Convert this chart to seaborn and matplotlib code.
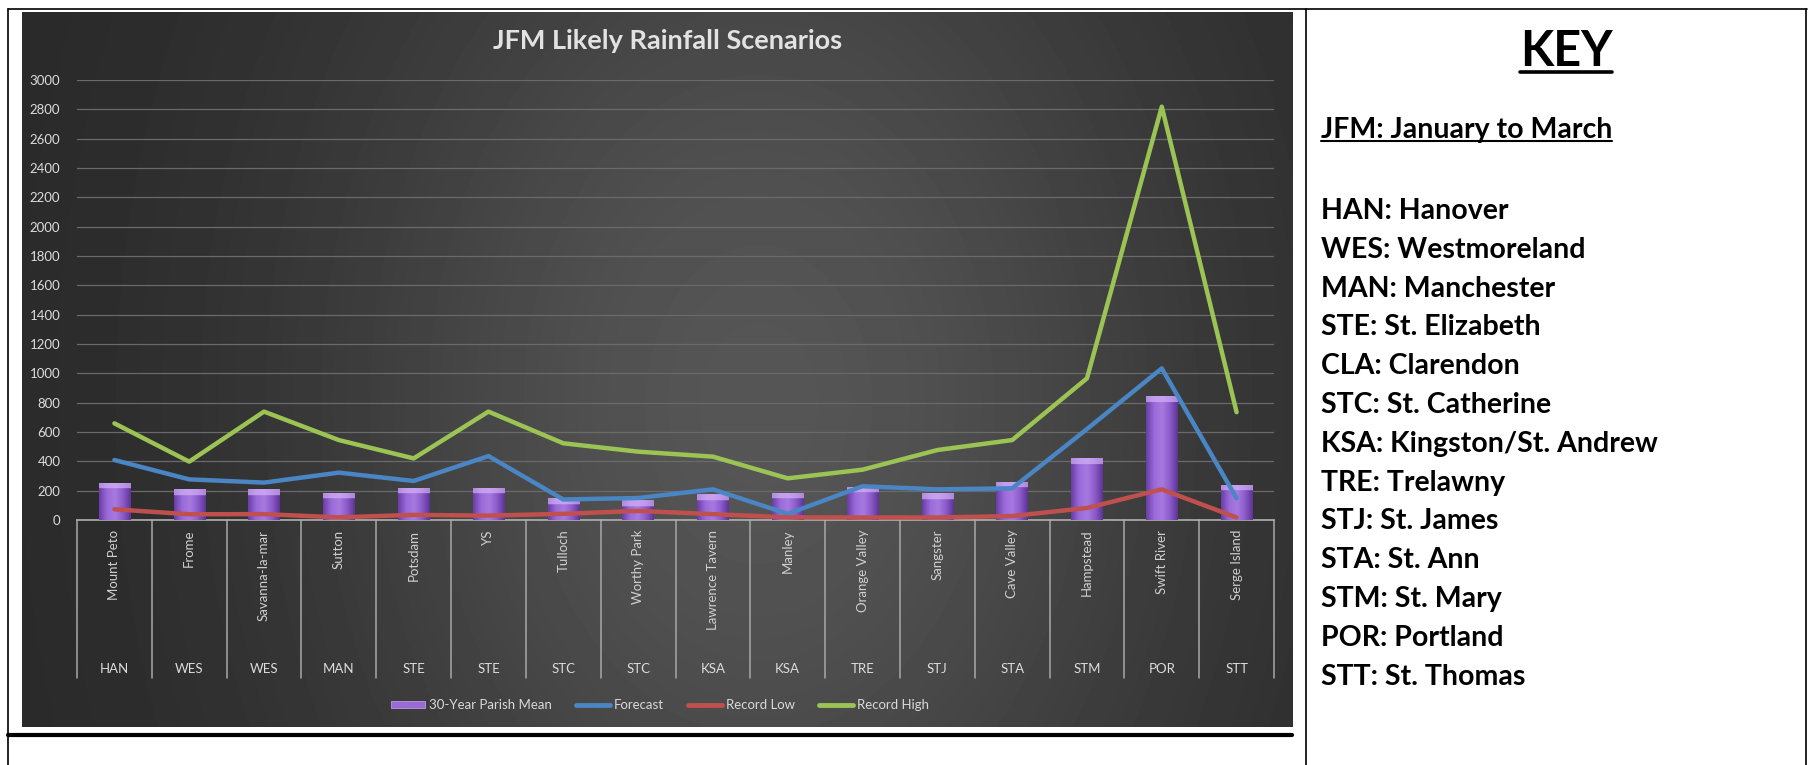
import numpy as np
import pandas as pd
import matplotlib
matplotlib.use("Agg")
import matplotlib.pyplot as plt
import seaborn as sns
from matplotlib.lines import Line2D
from matplotlib.patches import Patch

# ---------------- data ----------------
sites = ["Mount Peto", "Frome", "Savanna-la-mar", "Sutton", "Potsdam", "YS",
         "Tulloch", "Worthy Park", "Lawrence Tavern", "Manley", "Orange Valley",
         "Sangster", "Cave Valley", "Hampstead", "Swift River", "Serge Island"]
parishes = ["HAN", "WES", "WES", "MAN", "STE", "STE", "STC", "STC", "KSA", "KSA",
            "TRE", "STJ", "STA", "STM", "POR", "STT"]
parish_mean = [255, 209, 209, 186, 220, 220, 148, 136, 175, 186, 227, 182, 261, 420, 845, 239]
forecast = [409, 277, 255, 323, 266, 436, 140, 150, 209, 42, 230, 209, 216, 620, 1034, 148]
record_low = [73, 39, 40, 18, 35, 30, 42, 62, 40, 18, 17, 17, 27, 82, 209, 17]
record_high = [659, 398, 739, 545, 420, 739, 523, 466, 432, 284, 343, 477, 545, 966, 2818, 735]
y_ticks = list(range(0, 3001, 200))
title = "JFM Likely Rainfall Scenarios"
key_title = "KEY"
key_sub = "JFM: January to March"
key_lines = ["HAN: Hanover", "WES: Westmoreland", "MAN: Manchester", "STE: St. Elizabeth",
             "CLA: Clarendon", "STC: St. Catherine", "KSA: Kingston/St. Andrew",
             "TRE: Trelawny", "STJ: St. James", "STA: St. Ann", "STM: St. Mary",
             "POR: Portland", "STT: St. Thomas"]

df = pd.DataFrame({"site": sites, "mean": parish_mean})

# ---------------- style ----------------
sns.set_theme(style="white")
plt.rcParams["font.family"] = ["Lato", "DejaVu Sans"]

W, H = 1809, 765
fig = plt.figure(figsize=(W / 100, H / 100), dpi=100)
fig.patch.set_facecolor("white")

def fx(px):
    return px / W

def fy(py):
    return 1 - py / H

# background panel with gradient
bl, bt, br, bb = 22, 12, 1292, 727
bg = fig.add_axes([fx(bl), fy(bb), fx(br - bl), (bb - bt) / H])
X, Y = np.meshgrid(np.linspace(0, 1, 400), np.linspace(0, 1, 200))
v = 0.155 + 0.18 * np.exp(-((X - 0.58) / 0.36) ** 2 - ((Y - 0.55) / 0.9) ** 2)
bg.imshow(v, cmap="gray", vmin=0, vmax=1, aspect="auto", extent=[0, 1, 0, 1],
          interpolation="bilinear")
bg.set_axis_off()

# main axes
al, at, ar, ab = 77, 80, 1274, 520
ax = fig.add_axes([fx(al), fy(ab), fx(ar - al), (ab - at) / H])
ax.set_facecolor("none")

sns.barplot(data=df, x="site", y="mean", color="#8a5cc6", width=0.42,
            ax=ax, zorder=2, saturation=1)
xs = np.arange(len(sites))
sns.lineplot(x=xs, y=forecast, color="#4a85c4", lw=3.2, ax=ax, zorder=4)
sns.lineplot(x=xs, y=record_low, color="#c0504d", lw=3.2, ax=ax, zorder=4)
sns.lineplot(x=xs, y=record_high, color="#9bc454", lw=3.2, ax=ax, zorder=4)

ax.set_ylim(0, 3000)
ax.set_xlim(-0.5, len(sites) - 0.5)
ax.set_yticks(y_ticks)
ax.set_yticklabels([str(t) for t in y_ticks])
ax.yaxis.grid(True, color="#6a6a6a", lw=0.9)
ax.set_axisbelow(True)
for s in ["top", "right", "left"]:
    ax.spines[s].set_visible(False)
ax.spines["bottom"].set_color("#b0b0b0")
ax.spines["bottom"].set_linewidth(1.2)
ax.tick_params(axis="y", length=0, pad=12, labelsize=9.5, labelcolor="#dcdcdc")
ax.set_xticks(xs)
ax.set_xticklabels(sites, rotation=90, fontsize=9.5, color="#d0d0d0", va="top")
ax.tick_params(axis="x", length=0, pad=7)
ax.set_xlabel("")
ax.set_ylabel("")

# bar shading (derived from the drawn patches)
fig.canvas.draw()
bar_cmap = matplotlib.colors.LinearSegmentedColormap.from_list(
    "bar", ["#6a3ea6", "#9a6ad8", "#a77ae0", "#8e5ccc", "#5e3496"])
for p in list(ax.patches):
    x0, y0 = p.get_x(), p.get_y()
    w, h = p.get_width(), p.get_height()
    p.set_edgecolor("none")
    (px0, py0), (px1, py1) = ax.transData.transform([(x0, y0), (x0 + w, y0 + h)])
    hpx = max(int(py1 - py0), 2)
    prof = np.linspace(0, 1, 60)[None, :].repeat(hpx, axis=0)
    rgba = bar_cmap(prof)
    cap = min(6, hpx)
    rgba[:cap, :, :3] = rgba[:cap, :, :3] * 0.35 + np.array([0.85, 0.72, 0.98]) * 0.65
    im = ax.imshow(rgba, extent=[x0, x0 + w, y0, y0 + h], aspect="auto", zorder=3,
                   interpolation="bilinear")
    im.set_clip_path(p)
ax.set_xlim(-0.5, len(sites) - 0.5)
ax.set_ylim(0, 3000)

# multi-level category axis: dividers and parish codes
trans = matplotlib.transforms.blended_transform_factory(ax.transData, ax.transAxes)
div_bottom = (ab - 678) / (ab - at)
for i in range(len(sites) + 1):
    ax.plot([i - 0.5, i - 0.5], [0, div_bottom], transform=trans, color="#a8a8a8",
            lw=1.1, clip_on=False)
code_y = (ab - 669) / (ab - at)
for i, code in enumerate(parishes):
    ax.text(i, code_y, code, transform=trans, ha="center", va="center",
            fontsize=9.5, color="#dcdcdc")

# title
fig.text(fx(668), fy(41), title, ha="center", va="center", fontsize=19.5,
         fontweight="bold", color="#e2e2e2")

# legend
handles = [Patch(facecolor="#9a6ad8", edgecolor="#c9a8f0", lw=0.5),
           Line2D([], [], color="#4a85c4", lw=3.5),
           Line2D([], [], color="#c0504d", lw=3.5),
           Line2D([], [], color="#9bc454", lw=3.5)]
labels = ["30-Year Parish Mean", "Forecast", "Record Low", "Record High"]
leg = fig.legend(handles, labels, loc="center", bbox_to_anchor=(fx(660), fy(705)),
                 ncol=4, frameon=False, fontsize=9.5, labelcolor="#d9d9d9",
                 handlelength=2.6, handleheight=0.45, handletextpad=0.3,
                 columnspacing=1.8)

# table frame lines
def hline(y, x0, x1, lw=1.2):
    fig.add_artist(Line2D([fx(x0), fx(x1)], [fy(y), fy(y)], color="black", lw=lw))

def vline(x, y0, y1, lw=1.2):
    fig.add_artist(Line2D([fx(x), fx(x)], [fy(y0), fy(y1)], color="black", lw=lw))

hline(9, 8, 1807)
vline(8, 9, 765)
vline(1306, 9, 765)
vline(1806, 9, 765)
hline(735, 8, 1292, lw=3.0)

# key panel
kx = 1321
kt = fig.text(fx(1566), fy(52), key_title, ha="center", va="center", fontsize=35,
              fontweight="bold", color="black")
ks = fig.text(fx(kx), fy(130), key_sub, ha="left", va="center", fontsize=20.5,
              fontweight="bold", color="black")
for i, line in enumerate(key_lines):
    fig.text(fx(kx), fy(211 + i * 38.8), line, ha="left", va="center", fontsize=20.5,
             fontweight="bold", color="black")

fig.canvas.draw()
r = fig.canvas.get_renderer()
for t, off, lw in [(kt, 3, 2.6), (ks, 2, 1.5)]:
    bb_ = t.get_window_extent(r)
    yb = bb_.y0 + off
    fig.add_artist(Line2D([bb_.x0 / W, bb_.x1 / W], [yb / H, yb / H], color="black", lw=lw))

fig.savefig("out.png", dpi=100, facecolor="white")
